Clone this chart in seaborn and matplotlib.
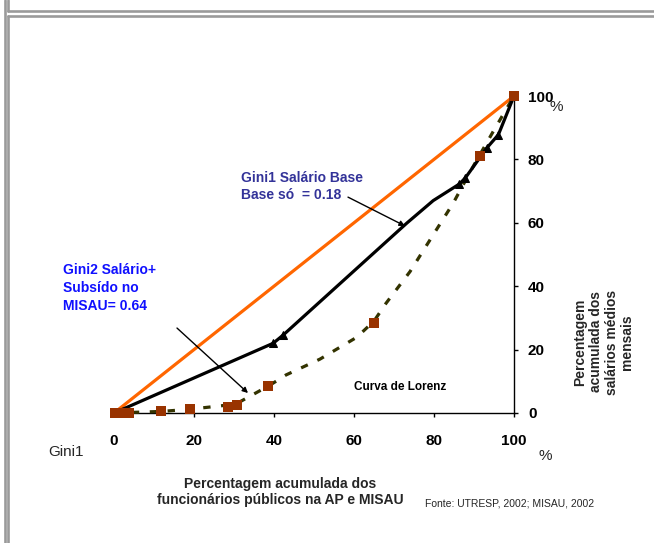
import matplotlib
matplotlib.use("Agg")
import matplotlib.pyplot as plt
from matplotlib.lines import Line2D
import seaborn as sns
import pandas as pd

# ---- data ----
equality_x = [0, 100]
equality_y = [0, 100]

gini1_x = [0, 39.8, 42.3, 73.2, 79.8, 86.3, 87.8, 93.2, 96.1, 100]
gini1_y = [0, 22.0, 24.6, 59.9, 67.0, 72.2, 74.1, 83.6, 87.8, 100]
gini1_marker_idx = [1, 2, 5, 6, 7, 8]

gini2_curve_x = [0, 12, 19, 27, 31, 35, 39, 43, 51.5, 60.7, 65, 68, 74, 79, 84.8, 89.8, 94.8, 100]
gini2_curve_y = [0, 0.5, 1.2, 2.3, 3.2, 6.0, 8.8, 12.0, 17.0, 23.9, 29.0, 34.6, 44.6, 54.6, 66.2, 77.8, 88.8, 100]

gini2_pts_x = [0.3, 1.8, 3.8, 11.8, 19.0, 28.4, 30.7, 38.4, 65.0, 91.5, 100]
gini2_pts_y = [0.0, 0.0, 0.0, 0.5, 1.2, 2.0, 2.6, 8.5, 28.3, 81.0, 100]

ticks = [0, 20, 40, 60, 80, 100]
tick_labels = ["0", "20", "40", "60", "80", "100"]

sns.set_style("white")
plt.rcParams["font.family"] = ["Liberation Sans", "DejaVu Sans"]

W, H = 654, 543
fig = plt.figure(figsize=(W / 100, H / 100), dpi=100)
ax = fig.add_axes([114 / W, 1 - 413 / H, 400 / W, 317 / H])

eq = pd.DataFrame({"x": equality_x, "y": equality_y})
g1 = pd.DataFrame({"x": gini1_x, "y": gini1_y})
g2c = pd.DataFrame({"x": gini2_curve_x, "y": gini2_curve_y})
g2p = pd.DataFrame({"x": gini2_pts_x, "y": gini2_pts_y})

sns.lineplot(data=eq, x="x", y="y", ax=ax, color="#FF6600", lw=2.3,
             sort=False, clip_on=False, zorder=2)
sns.lineplot(data=g2c, x="x", y="y", ax=ax, color="#333300", lw=2.3,
             linestyle=(0, (2.3, 3.3)), sort=False, clip_on=False, zorder=3)
sns.lineplot(data=g1, x="x", y="y", ax=ax, color="black", lw=2.3,
             marker="^", markevery=gini1_marker_idx, markersize=5.5,
             markeredgecolor="black", markerfacecolor="black",
             sort=False, clip_on=False, zorder=4)
sns.scatterplot(data=g2p, x="x", y="y", ax=ax, marker="s", s=60,
                color="#993300", edgecolor="#993300", linewidth=0,
                clip_on=False, zorder=5)

ax.set_xlim(0, 100)
ax.set_ylim(0, 100)
ax.set_xlabel("")
ax.set_ylabel("")

for s in ["left", "top"]:
    ax.spines[s].set_visible(False)
for s in ["right", "bottom"]:
    ax.spines[s].set_visible(True)
    ax.spines[s].set_color("black")
    ax.spines[s].set_linewidth(1.0)

ax.set_xticks(ticks)
ax.set_xticklabels(tick_labels, fontsize=11, fontweight="bold")
ax.set_yticks(ticks)
ax.set_yticklabels(tick_labels, fontsize=11, fontweight="bold")
ax.yaxis.tick_right()
ax.tick_params(axis="x", direction="out", length=3, width=1, pad=12, bottom=True, colors="black")
ax.tick_params(axis="y", direction="out", length=3, width=1, pad=7, right=True, left=False, colors="black")

# annotations
ax.text(31.7, 71.5, "Gini1 Salário Base\nBase só  = 0.18", color="#333399",
        fontsize=10, fontweight="bold", ha="left", va="center", linespacing=1.3)
ax.text(-12.8, 39.5, "Gini2 Salário+\nSubsído no\nMISAU= 0.64", color="#1010FF",
        fontsize=10, fontweight="bold", ha="left", va="center", linespacing=1.35,
        clip_on=False)
ax.annotate("", xy=(72.75, 59.0), xytext=(58.5, 68.1),
            arrowprops=dict(arrowstyle="-|>", color="black", lw=1.0,
                            mutation_scale=8, shrinkA=0, shrinkB=0))
ax.annotate("", xy=(33.5, 6.3), xytext=(15.75, 26.8),
            arrowprops=dict(arrowstyle="-|>", color="black", lw=1.0,
                            mutation_scale=8, shrinkA=0, shrinkB=0))
ax.text(71.5, 8.2, "Curva de Lorenz", fontsize=8.5, fontweight="bold",
        ha="center", va="center", color="black")

# figure texts (pixel positions -> figure fraction)
def fx(px):
    return px / W

def fy(py):
    return 1 - py / H

fig.text(fx(556), fy(107), "%", fontsize=11, ha="center", va="center")
fig.text(fx(545), fy(456), "%", fontsize=11, ha="center", va="center")
fig.text(fx(48), fy(452), "Gini1", fontsize=11, ha="left", va="center")
fig.text(fx(280), fy(492), "Percentagem acumulada dos\nfuncionários públicos na AP e MISAU",
         fontsize=10, fontweight="bold", ha="center", va="center", linespacing=1.1)
fig.text(fx(425), fy(503), "Fonte: UTRESP, 2002; MISAU, 2002", fontsize=7.5,
         ha="left", va="center")
fig.text(fx(604), fy(342), "Percentagem\nacumulada dos\nsalários médios\nmensais",
         fontsize=10, fontweight="bold", ha="center", va="center", rotation=90,
         linespacing=1.15)

# double gray frame
gray = "#9a9a9a"
lwf = 1.9
fig.add_artist(Line2D([fx(5), fx(5)], [fy(0), fy(H)], color=gray, lw=lwf))
fig.add_artist(Line2D([fx(8), fx(8)], [fy(0), fy(10.5)], color=gray, lw=lwf))
fig.add_artist(Line2D([fx(8), fx(8)], [fy(15.5), fy(H)], color=gray, lw=lwf))
fig.add_artist(Line2D([fx(8), fx(W)], [fy(10.5), fy(10.5)], color=gray, lw=lwf))
fig.add_artist(Line2D([fx(8), fx(W)], [fy(15.5), fy(15.5)], color=gray, lw=lwf))

fig.savefig("out.png", dpi=100)
